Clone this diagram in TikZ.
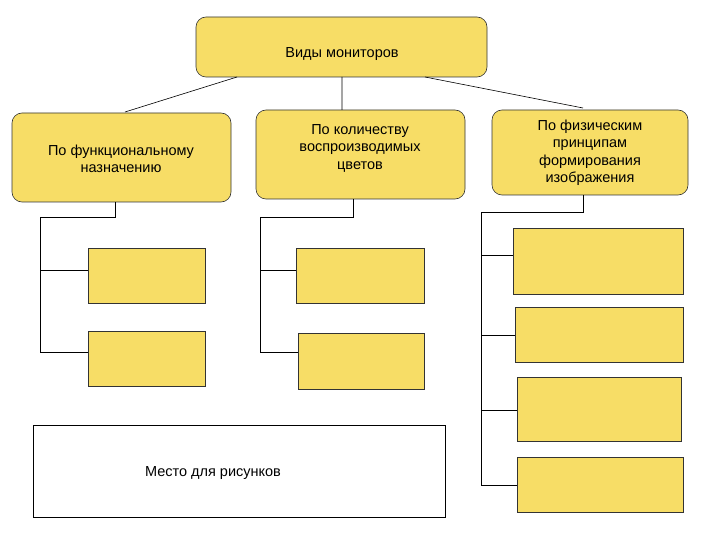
\documentclass[tikz,border=0pt]{standalone}
\usepackage{fontspec}
\setmainfont{Liberation Sans}
\begin{document}
\begin{tikzpicture}[x=1pt,y=-1pt,
  ybox/.style={draw=black!80,fill=boxy,line width=0.6pt},
  rbox/.style={ybox,rounded corners=10pt},
  lbl/.style={font=\fontsize{14.5}{17.5}\selectfont,align=center},
  ln/.style={draw=black,line width=0.6pt}]
\definecolor{boxy}{HTML}{F7DD66}
\useasboundingbox (0,0) rectangle (720,540);
\draw[rbox] (196,17) rectangle (487,77);
\node[lbl] (top) at (342,54) {Виды мониторов};
\draw[rbox] (12,113) rectangle (231,202);
\node[lbl] (l) at (121,159) {По функциональному\\назначению};
\draw[rbox] (256,110) rectangle (465,199);
\node[lbl] (m) at (360,148) {По количеству\\воспроизводимых\\цветов};
\draw[rbox] (492,110) rectangle (688,195);
\node[lbl] (r) at (590,153) {По физическим\\принципам\\формирования\\изображения};
\coordinate (a1) at (237,77); \coordinate (a2) at (125,112);
\coordinate (b1) at (342,77); \coordinate (b2) at (342,110);
\coordinate (c1) at (425,77); \coordinate (c2) at (583,108);
\draw[ln] (a1)--(a2) (b1)--(b2) (c1)--(c2);
% left tree
\draw[ybox] (88,248) rectangle (205,303);
\draw[ybox] (88,331) rectangle (205,386);
\draw[ln] (115,202)--(115,217)--(40,217)--(40,352)--(88,352) (40,270)--(88,270);
% middle tree
\draw[ybox] (296,248) rectangle (424,303);
\draw[ybox] (298,333) rectangle (424,389);
\draw[ln] (353,199)--(353,217)--(260,217)--(260,352)--(298,352) (260,270)--(296,270);
% right tree
\draw[ybox] (513,228) rectangle (683,294);
\draw[ybox] (515,307) rectangle (683,362);
\draw[ybox] (517,377) rectangle (681,441);
\draw[ybox] (517,457) rectangle (683,512);
\draw[ln] (583,195)--(583,212)--(481,212)--(481,485)--(517,485)
  (481,255)--(513,255) (481,335)--(515,335) (481,410)--(517,410);
\draw[ln,fill=white] (33,425) rectangle (445,517);
\node[lbl] (pic) at (213,473) {Место для рисунков};
\end{tikzpicture}
\end{document}
